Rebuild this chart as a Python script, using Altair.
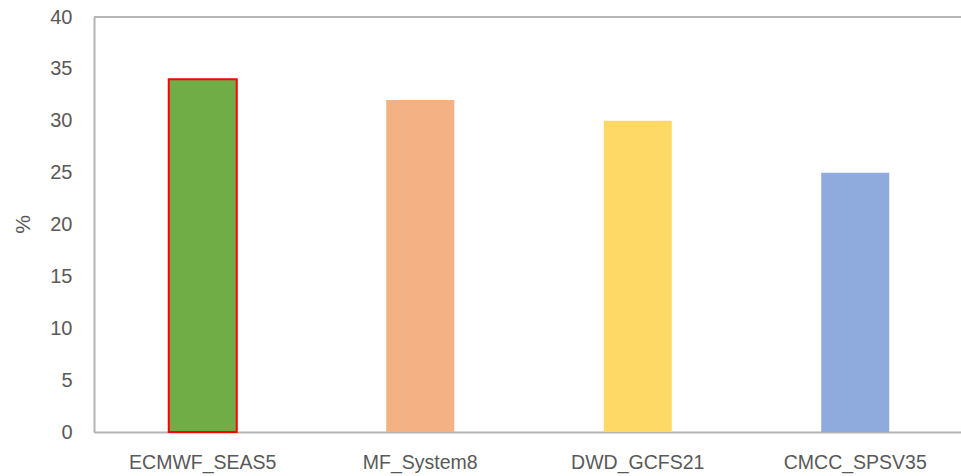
import altair as alt
import pandas as pd

models = ["ECMWF_SEAS5", "MF_System8", "DWD_GCFS21", "CMCC_SPSV35"]
values = [34, 32, 30, 25]
bar_colors = ["#70ad47", "#f4b183", "#ffd966", "#8faadc"]
y_ticks = [0, 5, 10, 15, 20, 25, 30, 35, 40]

df = pd.DataFrame({"model": models, "value": values})

FONT = "Liberation Sans"
GRAY = "#595959"
LINE = "#b4b4b4"
FS = 19.5

bars = alt.Chart(df).mark_bar(size=68, strokeWidth=2).encode(
    x=alt.X("model:N", sort=models,
            scale=alt.Scale(paddingInner=0.687, paddingOuter=0.3435, range=[0, 870]),
            axis=alt.Axis(title=None, labelAngle=0, ticks=False, labelPadding=21,
                          labelFontSize=FS, labelColor=GRAY, labelFont=FONT,
                          domainColor=LINE, domainWidth=2)),
    y=alt.Y("value:Q", scale=alt.Scale(domain=[0, 40], nice=False),
            axis=alt.Axis(title="%", values=y_ticks, grid=False, ticks=False,
                          labelPadding=22, labelFontSize=20, labelColor=GRAY,
                          labelFont=FONT, domainColor=LINE, domainWidth=2,
                          titleFont=FONT, titleFontSize=21, titleFontWeight="normal",
                          titleColor=GRAY, titleAngle=-90, titleX=-61, titleY=207,
                          titleBaseline="bottom", titleAlign="center")),
    color=alt.Color("model:N", scale=alt.Scale(domain=models, range=bar_colors), legend=None),
    stroke=alt.condition(alt.datum.model == "ECMWF_SEAS5", alt.value("#ff0000"), alt.value(None)),
)

top_line = alt.Chart(df).mark_rule(color=LINE, strokeWidth=2).encode(y=alt.datum(40))

chart = alt.layer(bars, top_line).properties(
    width=867, height=415,
    autosize=alt.AutoSizeParams(type="none"),
    padding={"left": 94, "top": 17, "right": 0, "bottom": 44},
).configure_view(stroke=None).configure(background="white")

chart.save("out.html", embed_options={"renderer": "svg", "actions": False})
